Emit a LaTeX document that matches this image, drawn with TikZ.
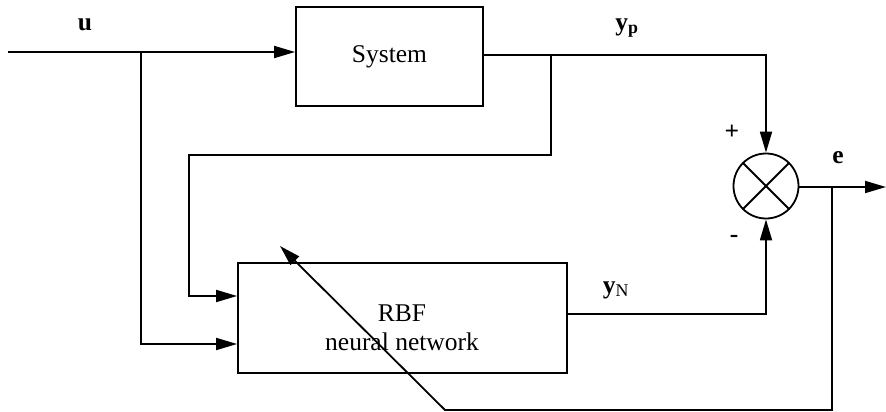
\documentclass[tikz,border=0pt]{standalone}
\usepackage{fontspec}
\setmainfont{Liberation Serif}
\usetikzlibrary{arrows.meta,calc}
\begin{document}
\begin{tikzpicture}[x=1pt,y=-1pt,
  line width=1.8pt,
  font=\fontsize{25.5}{32}\selectfont,
  block/.style={draw,rectangle,inner sep=0pt},
  sig/.style={-{Triangle[length=21pt,width=12pt]}},
  lbl/.style={inner sep=0pt}]
\useasboundingbox (0,0) rectangle (886,412);

% blocks
\node[block,minimum width=187pt,minimum height=99pt] (sys) at (389.5,56.5) {System};
\node[block,minimum width=329pt,minimum height=110pt] (rbf) at (402.5,318) {};
\node[lbl,align=center] (rbftxt) at (402,328) {RBF\\[-3pt]neural network};
\node[draw,circle,minimum size=65pt,inner sep=0pt] (sum) at (766,186) {};
\draw (sum.north west) -- (sum.south east);
\draw (sum.north east) -- (sum.south west);

% junction points
\coordinate (in)  at (8,52);
\coordinate (ju)  at (141,52);
\coordinate (jy)  at (551,55);
\coordinate (je)  at (832,187);
\coordinate (out) at (886,187);
\coordinate (fb)  at (445,410);
\coordinate (tip) at (280,246);

% input u to system and to the network
\draw[sig] (in) -- (ju) -- (sys.west |- in);
\draw[sig] (ju) -- (141,344) -- (rbf.west |- 0,344);

% plant output y_p
\draw[sig] (sys.east |- jy) -- (sum.north |- jy) -- (sum.north);
\draw[sig] (jy) -- (551,155) -- (189,155) -- (189,296) -- (rbf.west |- 0,296);

% network output y_N
\draw[sig] (rbf.east |- 0,314) -- (sum.south |- 0,314) -- (sum.south);

% error e and adaptation path
\draw[sig] (sum.east |- je) -- (out);
\draw[sig] (je) -- (je |- fb) -- (fb) -- (tip);

% labels
\node[lbl] (lu) at (85,25) {\textbf{u}};
\node[lbl] (lyp) at (627,28) {\textbf{y\textsubscript{p}}};
\node[lbl] (le) at (838,158) {\textbf{e}};
\node[lbl] (lp) at (732,132) {\textbf{+}};
\node[lbl] (lm) at (734,239) {\textbf{-}};
\node[lbl] (lyn) at (616,290) {\textbf{y}\textsubscript{N}};
\end{tikzpicture}
\end{document}
